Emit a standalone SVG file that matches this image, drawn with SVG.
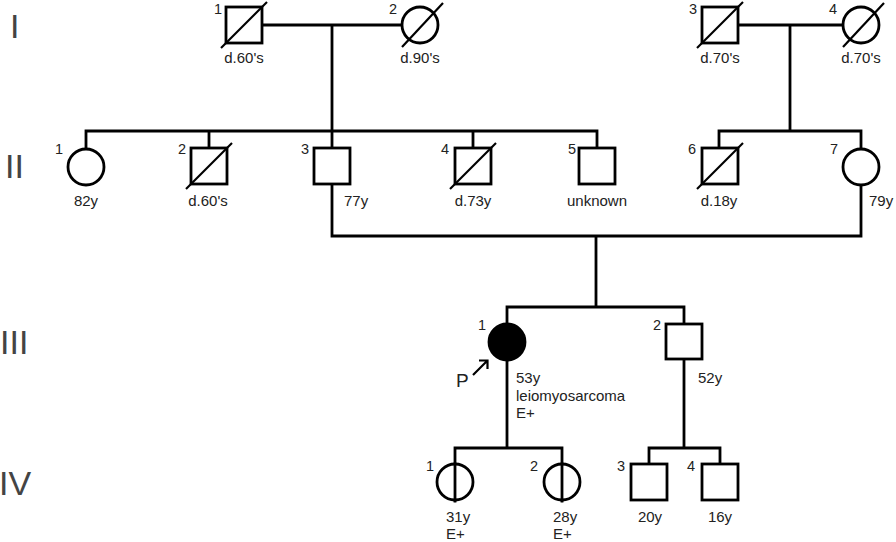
<svg xmlns="http://www.w3.org/2000/svg" width="896" height="542" viewBox="0 0 896 542">
<style>
.s{fill:#fff;stroke:#000;stroke-width:2.8}
.f{fill:#000;stroke:#000;stroke-width:2.8}
.l{fill:none;stroke:#000;stroke-width:2.8;stroke-linecap:square}
.d{fill:none;stroke:#000;stroke-width:2.2}
text{font-family:"Liberation Sans",Arial,sans-serif;fill:#222;font-size:15px}
.n{font-size:14.5px}
.m{text-anchor:middle}
.g{font-size:34px;fill:#444}
</style>
<rect width="896" height="542" fill="#fff"/>
<g id="generations">
<text class="g" x="10" y="38">I</text>
<text class="g" x="5" y="178">II</text>
<text class="g" x="0" y="354">III</text>
<text class="g" x="-1" y="495">IV</text>
</g>
<g id="connectors">
<path class="l" d="M262 25H402M332 25V131M86 131H597M86 131V149M209 131V148M332 131V148M473 131V148M597 131V148"/>
<path class="l" d="M737 25H843M790 25V131M719 131H861M719 131V148M861 131V149"/>
<path class="l" d="M332 184V236H861V185M596 236V307M507 307H684M507 307V324M684 307V324"/>
<path class="l" d="M507 360V448M455 448H562M455 448V501M562 448V501M684 359V448M649 448H720M649 448V464M720 448V464"/>
</g>
<g id="I-1"><rect class="s" x="226" y="7" width="36" height="36"/><path class="d" d="M221 48L267 2"/><text class="n" x="214" y="14">1</text><text class="m" x="244" y="63">d.60's</text></g>
<g id="I-2"><circle class="s" cx="420" cy="25" r="18"/><path class="d" d="M402 47L443 3"/><text class="n" x="389" y="14">2</text><text class="m" x="420" y="63">d.90's</text></g>
<g id="I-3"><rect class="s" x="702" y="7" width="36" height="36"/><path class="d" d="M697 48L743 2"/><text class="n" x="689" y="14">3</text><text class="m" x="720" y="63">d.70's</text></g>
<g id="I-4"><circle class="s" cx="861" cy="25" r="18"/><path class="d" d="M843 47L884 3"/><text class="n" x="829" y="14">4</text><text class="m" x="861" y="63">d.70's</text></g>
<g id="II-1"><circle class="s" cx="86" cy="167" r="18"/><text class="n" x="55" y="154">1</text><text class="m" x="86" y="206">82y</text></g>
<g id="II-2"><rect class="s" x="191" y="148" width="36" height="36"/><path class="d" d="M186 189L232 143"/><text class="n" x="178" y="154">2</text><text class="m" x="208" y="206">d.60's</text></g>
<g id="II-3"><rect class="s" x="314" y="148" width="36" height="36"/><text class="n" x="301" y="154">3</text><text x="344" y="206">77y</text></g>
<g id="II-4"><rect class="s" x="455" y="148" width="36" height="36"/><path class="d" d="M450 189L496 143"/><text class="n" x="441" y="154">4</text><text class="m" x="473" y="206">d.73y</text></g>
<g id="II-5"><rect class="s" x="579" y="148" width="36" height="36"/><text class="n" x="568" y="154">5</text><text class="m" x="597" y="206">unknown</text></g>
<g id="II-6"><rect class="s" x="702" y="148" width="36" height="36"/><path class="d" d="M697 189L743 143"/><text class="n" x="688" y="154">6</text><text class="m" x="719" y="206">d.18y</text></g>
<g id="II-7"><circle class="s" cx="861" cy="167" r="18"/><text class="n" x="830" y="154">7</text><text x="869" y="206">79y</text></g>
<g id="III-1"><circle class="f" cx="507" cy="342" r="18"/><text class="n" x="478" y="330">1</text>
<path class="d" d="M473 375L487 361M479 360.5H487.5V369"/><text x="456" y="387" style="font-size:19px">P</text>
<text x="516" y="383">53y</text><text x="516" y="401">leiomyosarcoma</text><text x="516" y="418">E+</text></g>
<g id="III-2"><rect class="s" x="666" y="324" width="36" height="35"/><text class="n" x="653" y="330">2</text><text x="698" y="383">52y</text></g>
<g id="IV-1"><circle class="s" cx="455" cy="482" r="18"/><path class="l" d="M455 464V500"/><text class="n" x="426" y="471">1</text><text x="446" y="522">31y</text><text x="446" y="539">E+</text></g>
<g id="IV-2"><circle class="s" cx="562" cy="482" r="18"/><path class="l" d="M562 464V500"/><text class="n" x="530" y="471">2</text><text x="553" y="522">28y</text><text x="553" y="539">E+</text></g>
<g id="IV-3"><rect class="s" x="631" y="464" width="36" height="36"/><text class="n" x="617" y="471">3</text><text class="m" x="650" y="522">20y</text></g>
<g id="IV-4"><rect class="s" x="702" y="464" width="36" height="36"/><text class="n" x="687" y="471">4</text><text class="m" x="720" y="522">16y</text></g>
</svg>
